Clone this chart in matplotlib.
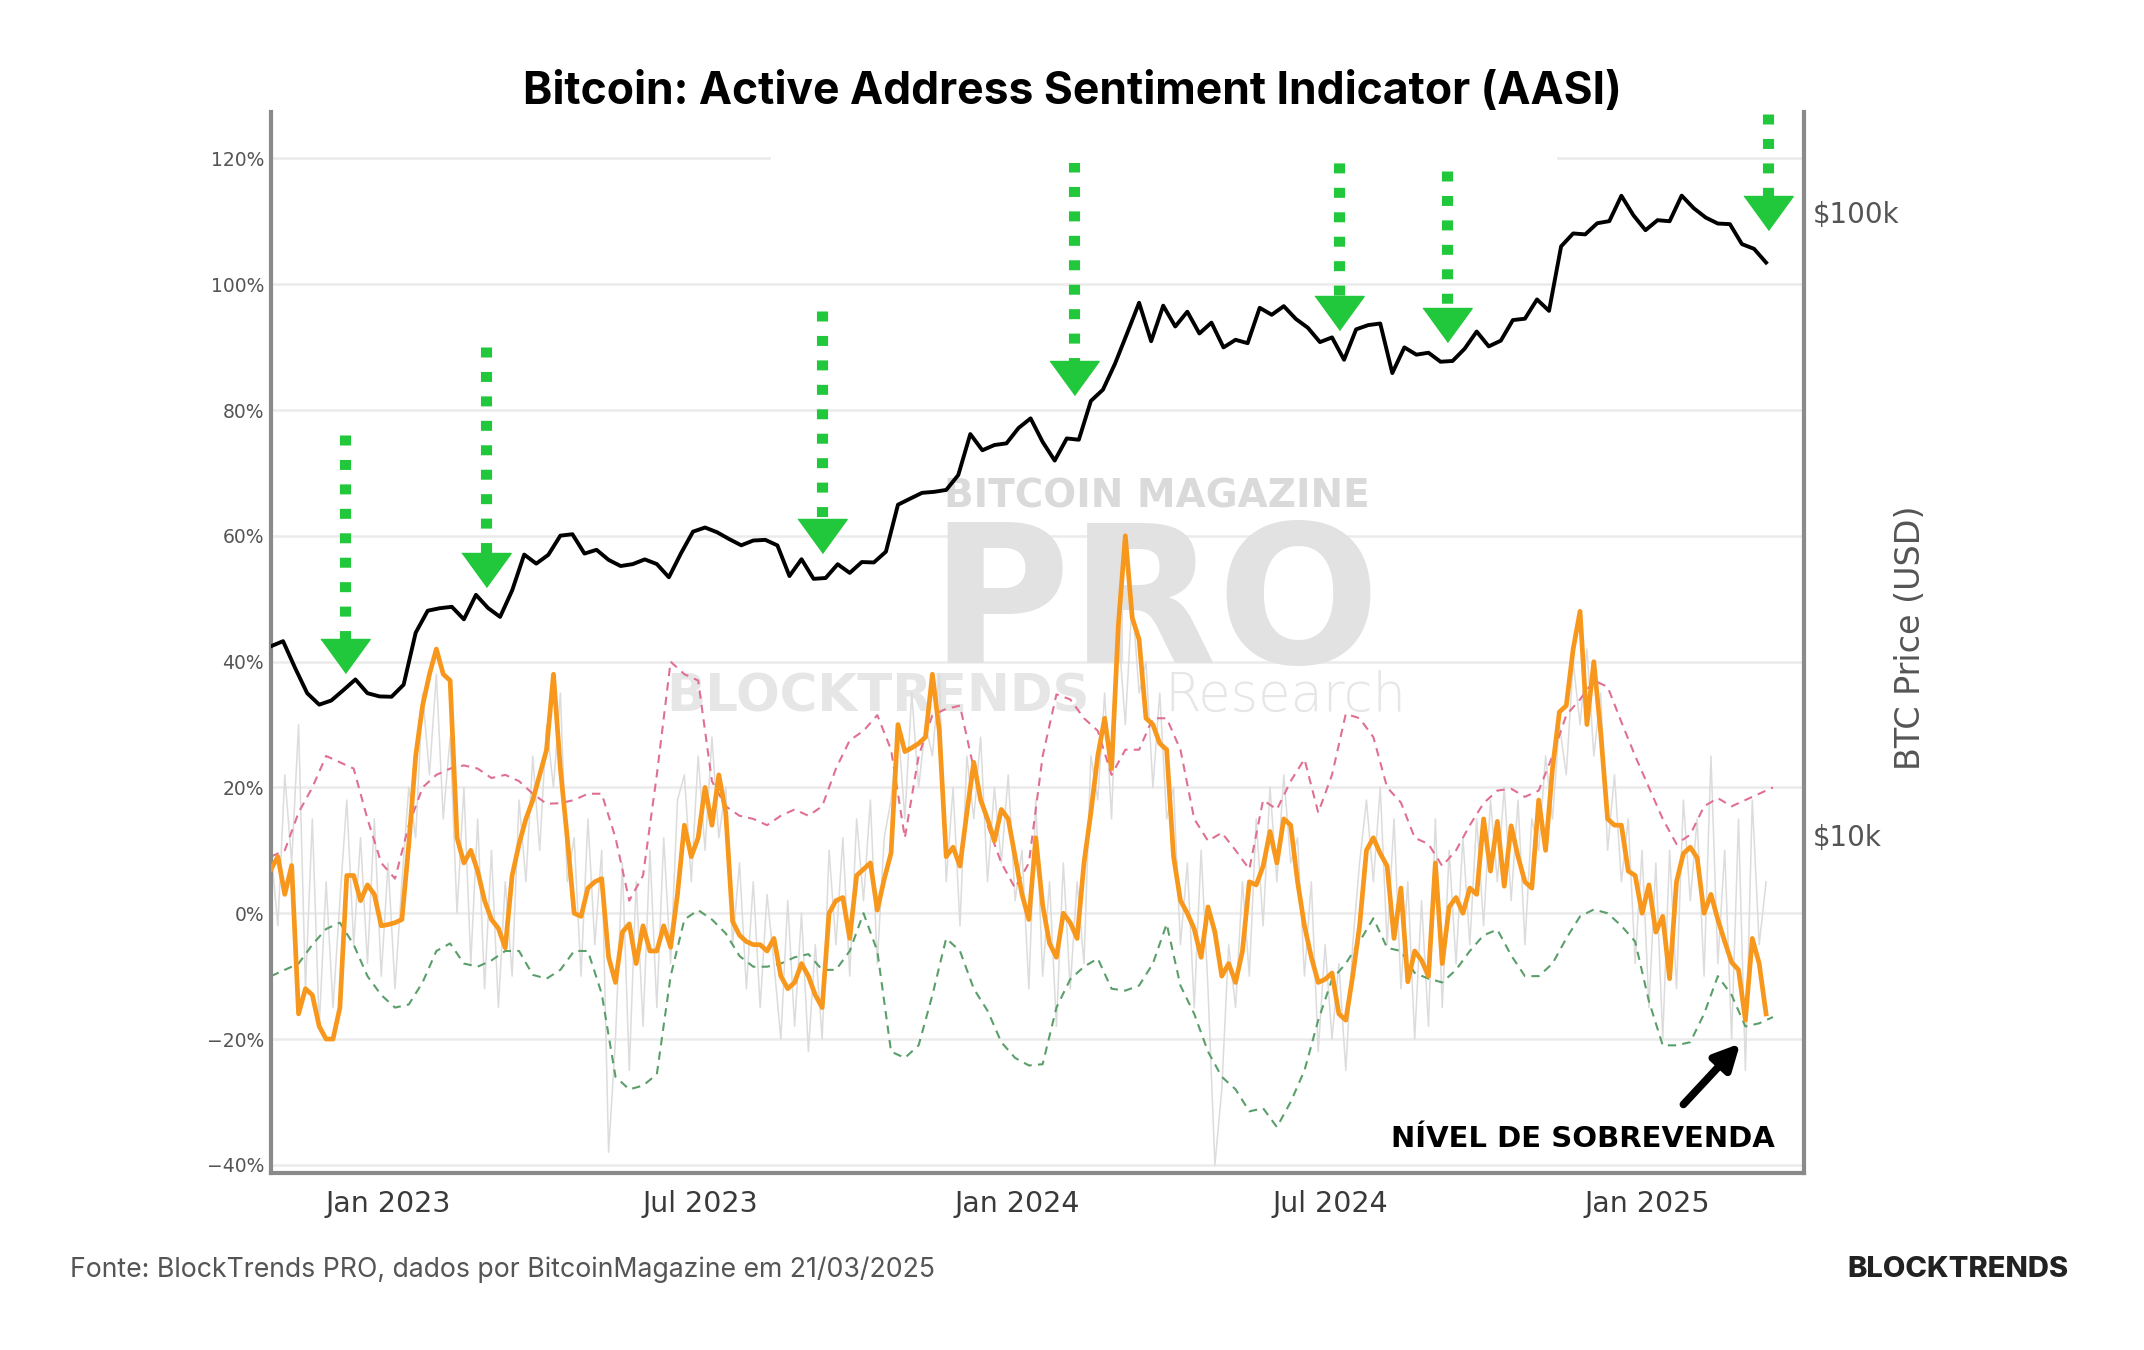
import matplotlib
matplotlib.use("Agg")
import matplotlib.pyplot as plt
import matplotlib.dates as mdates
from matplotlib.ticker import FixedLocator, FuncFormatter, NullLocator
from matplotlib.patches import Rectangle
import pandas as pd

# AASI (orange), sampled every 4 days from 2022-10-25
aasi = [
    7, 9, 3, 7.6, -16, -12, -13, -18, -20, -20,
    -15, 6, 6, 2, 4.5, 3, -2, -1.8, -1.5, -1,
    11, 25, 33, 38, 42, 38, 37, 12, 8, 10,
    6.7, 2, -1, -2.4, -5.5, 6, 11, 15, 18, 22,
    26, 38, 23, 12, 0, -0.5, 4, 5, 5.5, -7,
    -11, -3, -1.7, -8, -2, -6, -6, -2, -5.4, 3,
    14, 9, 12, 20, 14, 22, 16, -1.3, -3.5, -4.5,
    -5, -5, -6, -4, -10, -12, -11, -8, -10, -13,
    -15, 0, 2, 2.5, -4, 6, 7, 8, 0.5, 5.4,
    9.6, 30, 25.7, 26.3, 27, 28, 38, 29, 9, 10.5,
    7.5, 16, 24, 18, 15, 11.5, 16.5, 15, 9, 3,
    -1, 12, 1.3, -4.8, -7, 0, -1.5, -4, 8, 16,
    25, 31, 23, 46, 60, 47, 43.5, 31, 30, 27,
    26, 9, 2, 0, -2.5, -7, 1, -3, -10, -8,
    -11, -6, 5, 4.5, 7.5, 13, 8, 15, 14, 5,
    -2, -7, -11, -10.5, -9.5, -16, -17, -10, -2, 10,
    12, 9.5, 7.5, -4, 4, -10.9, -6, -7.5, -10, 8,
    -8, 1, 2.5, 0, 4, 3, 15, 6.7, 14.6, 4.3,
    13.9, 9, 5, 4, 18, 10, 23, 32, 33, 42,
    48, 30, 40, 28.7, 15, 14, 14, 6.7, 6, 0,
    4.5, -3, -0.5, -10.4, 5, 9.5, 10.5, 8.8, 0, 3,
    -1, -4.5, -7.8, -9, -17, -4, -8, -16,
]

# raw daily change (light grey), same 4-day sampling
raw = [
    10, -2, 22, 8, 30, -12, 15, -18, 5, -15,
    2, 18, -5, 12, -8, 15, -10, 8, -12, 5,
    20, 12, 35, 22, 38, 15, 28, 0, 20, -8,
    15, -12, 10, -15, 5, -10, 18, 5, 25, 10,
    30, 20, 35, 5, 12, -10, 15, -5, 10, -38,
    -20, 8, -25, 5, -18, 10, -15, 12, -8, 18,
    22, 5, 25, 10, 28, 12, 20, -5, 8, -12,
    5, -15, 3, -8, -20, 2, -18, 0, -22, -5,
    -20, 10, -5, 12, -10, 15, 2, 18, -8, 12,
    18, 30, 15, 35, 20, 30, 25, 38, 5, 20,
    -2, 25, 15, 28, 5, 20, 8, 22, 2, 10,
    -12, 18, -10, 5, -18, 8, -12, 5, -8, 25,
    18, 35, 15, 45, 30, 50, 35, 40, 20, 35,
    15, 20, -5, 8, -15, 10, -12, -40, -28, -5,
    -15, 5, -10, 15, -2, 20, 5, 22, 8, 12,
    -10, 5, -22, -5, -20, -8, -25, -5, 8, 18,
    5, 20, -5, 15, -12, 5, -20, 2, -18, 15,
    -15, 10, -8, 12, -5, 15, -2, 18, 5, 20,
    2, 18, -5, 15, 10, 25, 15, 30, 22, 40,
    30, 42, 25, 35, 10, 22, 5, 15, -8, 10,
    -15, 8, -20, 10, -12, 18, 2, 15, -10, 25,
    -8, 10, -20, 15, -25, 18, -5, 5,
]

# upper / lower bands, sampled every 8 days
upper = [
    9, 10, 16, 20, 25, 24, 23, 15, 8, 5.5,
    14, 20, 22, 23, 23.5, 23, 21.5, 22, 21, 19,
    17.4, 17.5, 18, 19, 19, 12, 2, 6, 22, 40,
    38, 37, 21, 17, 15.5, 15, 14, 15.5, 16.5, 15.5,
    17, 23, 27.5, 29, 31.5, 26, 12, 25, 31.5, 32.5,
    33, 23, 14, 8, 4, 8, 25, 34.8, 34, 31,
    29, 22, 26, 26, 31, 31, 26, 15, 11.5, 12.8,
    10, 7, 18, 16.5, 21, 24.5, 16, 22, 31.7, 31,
    28, 20, 17.6, 12, 11, 7.5, 10, 14, 17.5, 19.5,
    19.8, 18.5, 19.5, 25, 31.5, 34, 37, 36, 30.4, 25,
    20, 15, 11, 12.5, 17, 18.3, 17, 18, 19, 20,
]
lower = [
    -10, -9, -8, -5, -2.5, -1.5, -5, -10, -13, -15,
    -14.5, -11, -6, -4.8, -8, -8.5, -7.5, -6, -6, -9.8,
    -10.4, -9, -6, -6, -12.8, -26, -28, -27.4, -25.6, -10,
    -1, 0.5, -1, -3.2, -6.8, -8.5, -8.5, -8, -7, -6.5,
    -9, -9, -6, 0, -6, -22, -23, -21, -13, -4,
    -6, -12, -15.5, -20.5, -23, -24.2, -24, -15, -10.5, -8.5,
    -7.2, -12, -12.3, -11.5, -8, -1.7, -11.5, -16, -22, -26,
    -28, -31.5, -31, -34, -30, -25, -17, -10.5, -8, -4.5,
    -0.8, -5.5, -6, -9.5, -10.4, -11, -9, -6, -3.5, -2.6,
    -6.7, -10, -10, -8, -4, -0.5, 0.6, 0, -2, -4.5,
    -14, -21, -21, -20.5, -16, -10, -13, -18, -17.5, -16.5,
]

# BTC price (USD), weekly from 2022-10-25
price = [
    20100, 20480, 18550, 16900, 16200, 16450, 17090, 17780, 16900, 16700,
    16680, 17440, 21130, 22920, 23130, 23250, 22200, 24300, 23150, 22400,
    24700, 28200, 27270, 28170, 30240, 30400, 28300, 28700, 27650, 27030,
    27220, 27700, 27230, 25930, 28320, 30690, 31160, 30620, 29860, 29180,
    29700, 29770, 29170, 26050, 27720, 25780, 25860, 27210, 26350, 27430,
    27390, 28500, 33900, 34660, 35420, 35550, 35800, 37820, 44000, 41450,
    42260, 42520, 45000, 46630, 42740, 39900, 43300, 43090, 49730, 51840,
    57050, 63800, 71460, 62000, 70700, 65470, 69140, 63800, 66410, 60600,
    62330, 61550, 70140, 68360, 70570, 67320, 65150, 61800, 62880, 57900,
    64780, 65800, 66190, 55120, 60600, 59000, 59420, 57480, 57640, 60310,
    64260, 60830, 62130, 67040, 67380, 72340, 69360, 88000, 92310, 91990,
    95860, 96600, 106100, 98700, 93430, 96950, 96560, 106150, 101330, 97870,
    95750, 95540, 88740, 87220, 82900,
]

# green signal arrows (percent axis)
arrow_dates = ["2022-12-07", "2023-02-27", "2023-09-10", "2024-02-03",
               "2024-07-06", "2024-09-07", "2025-03-12"]
arrow_top = [76, 90, 95.7, 119.4, 127, 118, 127]
arrow_tip = [38.3, 52, 57.4, 82.4, 92.8, 90.9, 108.7]

start = pd.Timestamp("2022-10-25")
aasi_dates = pd.date_range(start, periods=len(aasi), freq="4D")
band_dates = pd.date_range(start, periods=len(upper), freq="8D")
price_dates = pd.date_range(start, periods=len(price), freq="7D")


def dnum(s):
    return mdates.date2num(pd.Timestamp(s))


GREEN = "#22c83c"

fig = plt.figure(figsize=(21.44, 13.5), dpi=100)
ax = fig.add_axes([0.1264, 0.1311, 0.715, 0.786])
ax2 = ax.twinx()

# watermark
ax.text(0.5396, 0.6244, "BITCOIN MAGAZINE", transform=fig.transFigure, ha="center", va="baseline",
        fontsize=28, fontweight="bold", color="#dadada", zorder=0.6)
ax.text(0.5387, 0.509, "PRO", transform=fig.transFigure, ha="center", va="baseline",
        fontsize=138, fontweight="bold", color="#e2e2e2", zorder=0.6)
ax.text(0.4095, 0.4733, "BLOCKTRENDS", transform=fig.transFigure, ha="center", va="baseline",
        fontsize=37, fontweight="bold", color="#e6e6e6", zorder=0.6)
ax.text(0.5994, 0.4733, "Research", transform=fig.transFigure, ha="center", va="baseline",
        fontsize=38, fontweight="light", color="#e6e6e6", zorder=0.6)

ax.plot(aasi_dates, raw, color="#dcdcdc", lw=1.1, zorder=1)
ax.plot(band_dates, upper, color="#e07090", lw=1.5, ls=(0, (4, 3)), zorder=2)
ax.plot(band_dates, lower, color="#5a9e6a", lw=1.5, ls=(0, (4, 3)), zorder=2)
ax.plot(aasi_dates, aasi, color="#f7981d", lw=3.4, zorder=3)

ax.set_xlim(dnum("2022-10-25"), dnum("2025-04-02"))
ax.set_ylim(-41.3, 127.4)
ax.yaxis.set_major_locator(FixedLocator([-40, -20, 0, 20, 40, 60, 80, 100, 120]))
ax.yaxis.set_major_formatter(FuncFormatter(lambda v, p: f"{v:.0f}%".replace("-", "\u2212")))
ax.xaxis.set_major_locator(FixedLocator([dnum(d) for d in
    ["2023-01-01", "2023-07-01", "2024-01-01", "2024-07-01", "2025-01-01"]]))
ax.xaxis.set_major_formatter(mdates.DateFormatter("%b %Y"))
ax.grid(axis="y", color="#ebebeb", lw=1.8)
ax.set_axisbelow(True)
ax.tick_params(axis="y", length=0, labelsize=13.5, labelcolor="#555555", pad=5)
ax.tick_params(axis="x", length=0, labelsize=20.5, labelcolor="#3a3a3a", pad=12)

for s in ["top", "right"]:
    ax.spines[s].set_visible(False)
for s in ["left", "bottom"]:
    ax.spines[s].set_color("#8a8a8a")
    ax.spines[s].set_linewidth(3)

# price on log axis
ax2.plot(price_dates, price, color="black", lw=2.8, zorder=3)
ax2.set_yscale("log")
ax2.yaxis.set_major_locator(FixedLocator([1e4, 1e5]))
ax2.yaxis.set_major_formatter(FuncFormatter(lambda v, p: f"${v / 1000:.0f}k"))
ax2.yaxis.set_minor_locator(NullLocator())
ax2.tick_params(axis="y", length=0, labelsize=20, labelcolor="#555555", pad=6)
for s in ["top", "left", "bottom"]:
    ax2.spines[s].set_visible(False)
ax2.spines["right"].set_color("#8a8a8a")
ax2.spines["right"].set_linewidth(3)

# signal arrows
tri = [(-1, 0.69), (1, 0.69), (0, -0.69)]
for d, top, tip in zip(arrow_dates, arrow_top, arrow_tip):
    x = dnum(d)
    base = tip + 5.3
    ax2.plot([x, x], [top, base], color=GREEN, lw=8, ls=(0, (0.9, 1.3)),
             solid_capstyle="butt", dash_capstyle="butt", transform=ax.transData, zorder=4)
    ax2.plot([x], [tip + 2.65], marker=tri, markersize=35.5, color=GREEN, mec=GREEN,
             transform=ax.transData, zorder=4)

# white patch left behind the title box
ax2.add_patch(Rectangle((0.3596, 0.8794), 0.3666, 0.0376, transform=fig.transFigure,
                        facecolor="white", edgecolor="none", zorder=5))

ax2.set_xlim(dnum("2022-10-25"), dnum("2025-04-02"))
ax2.set_ylim(2873, 144600)

# oversold annotation
ax2.annotate("", xy=(dnum("2025-02-24"), -20.7), xytext=(dnum("2025-01-22"), -30.4),
             xycoords=ax.transData, textcoords=ax.transData,
             arrowprops=dict(arrowstyle="-|>", color="black", lw=5.5, mutation_scale=38,
                             shrinkA=0, shrinkB=0), zorder=6)
ax2.text(dnum("2025-03-16"), -35.9, "NÍVEL DE SOBREVENDA", transform=ax.transData,
         ha="right", va="center", fontsize=21, fontweight="bold", color="black", zorder=6)

fig.text(0.8913, 0.5274, "BTC Price (USD)", rotation=90, ha="center", va="center",
         fontsize=24, color="#555555")
fig.text(0.5, 0.932, "Bitcoin: Active Address Sentiment Indicator (AASI)", ha="center",
         va="center", fontsize=32, fontweight="bold", family="Inter", color="black")
fig.text(0.0326, 0.0593, "Fonte: BlockTrends PRO, dados por BitcoinMagazine em 21/03/2025",
         ha="left", va="center", fontsize=19.2, family="Inter", color="#555555")
fig.text(0.9646, 0.0593, "BLOCKTRENDS", ha="right", va="center", fontsize=21,
         fontweight="heavy", family="Inter", color="#222222")

fig.savefig("out.png", dpi=100, facecolor="white")
